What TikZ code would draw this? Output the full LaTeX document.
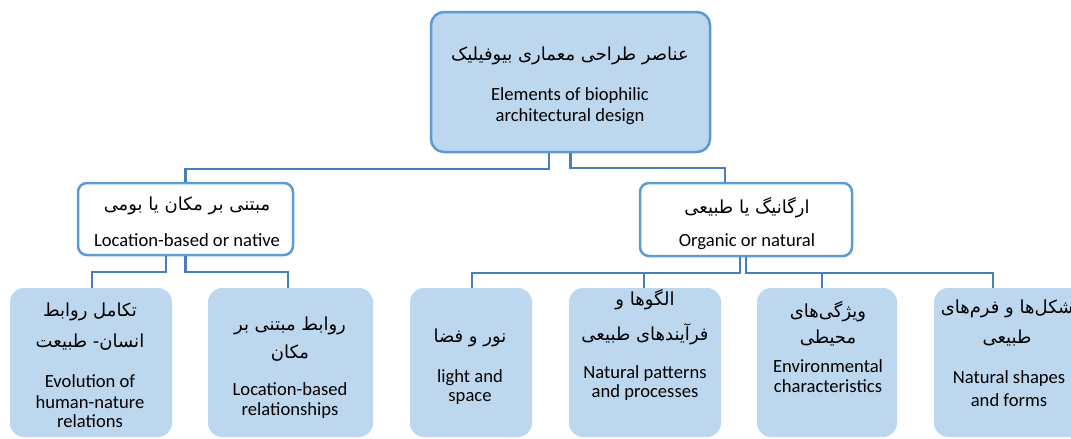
\documentclass[tikz,border=0pt]{standalone}
\usepackage{fontspec}
\setmainfont{Carlito}
\newfontfamily\fa[Script=Arabic]{DejaVu Sans}
\TeXXeTstate=1
\definecolor{boxfill}{HTML}{BDD7EE}
\definecolor{boxline}{HTML}{5B9BD5}
\definecolor{connline}{HTML}{4A7EBB}
\tikzset{
  rootbox/.style={draw=boxline, line width=2.5pt, fill=boxfill, rounded corners=13pt, inner sep=0pt},
  midbox/.style={draw=boxline, line width=2.5pt, fill=white, rounded corners=9pt, inner sep=0pt},
  leafbox/.style={fill=boxfill, rounded corners=14pt, inner sep=0pt},
  conn/.style={draw=connline, line width=2.2pt},
  fatxt/.style={anchor=base, inner sep=0pt, font=\fa\fontsize{18}{22}\selectfont},
  entxt/.style={anchor=base, inner sep=0pt, font=\fontsize{18.6}{22}\selectfont},
}
\begin{document}
\begin{tikzpicture}[x=1pt,y=-1pt]
\useasboundingbox (0,0) rectangle (1071,439);
\clip (0,0) rectangle (1071,439);
% boxes
\node[rootbox, minimum width=279pt, minimum height=140pt] (root) at (570.5,82) {};
\node[midbox, minimum width=215pt, minimum height=72pt] (lm) at (185.5,219) {};
\node[midbox, minimum width=212pt, minimum height=73pt] (rm) at (746,219.5) {};
\node[leafbox, minimum width=162pt, minimum height=149pt] (c1) at (91,362.5) {};
\node[leafbox, minimum width=165pt, minimum height=149pt] (c2) at (290.5,362.5) {};
\node[leafbox, minimum width=122pt, minimum height=149pt] (c3) at (471,362.5) {};
\node[leafbox, minimum width=152pt, minimum height=149pt] (c4) at (645,362.5) {};
\node[leafbox, minimum width=140pt, minimum height=149pt] (c5) at (827,362.5) {};
\node[leafbox, minimum width=150pt, minimum height=149pt] (c6) at (1009,362.5) {};
% connectors
\draw[conn] ([xshift=-21.5pt]root.south) -- ++(0,16) -| (lm.north);
\draw[conn] (root.south) -- ++(0,15) -| ([xshift=-21pt]rm.north);
\draw[conn] ([xshift=-19.5pt]lm.south) -- ++(0,16) -| ([xshift=1pt]c1.north);
\draw[conn] (lm.south) -- ++(0,16) -| ([xshift=-2.5pt]c2.north);
\draw[conn] ([xshift=-6pt]rm.south) -- ++(0,16) -| ([xshift=1pt]c3.north);
\draw[conn] ([xshift=-6pt]rm.south) -- ++(0,16) -| ([xshift=-1pt]c4.north);
\draw[conn] (rm.south) -- ++(0,16) -| ([xshift=-5pt]c5.north);
\draw[conn] (rm.south) -- ++(0,16) -| ([xshift=-16pt]c6.north);
% texts
\node[fatxt] (rootfa) at (570,60) {\beginR عناصر طراحی معماری بیوفیلیک\endR};
\node[entxt] (rooten1) at (570,100) {Elements of biophilic};
\node[entxt] (rooten2) at (570,121) {architectural design};
\node[fatxt] (lmfa) at (187,210) {\beginR مبتنی بر مکان یا بومی\endR};
\node[entxt] (lmen) at (187,246) {Location-based or native};
\node[fatxt] (rmfa) at (747,213) {\beginR ارگانیگ یا طبیعی\endR};
\node[entxt] (rmen) at (747,246) {Organic or natural};
\node[fatxt] (c1fa1) at (90,316) {\beginR تکامل روابط\endR};
\node[fatxt] (c1fa2) at (90,347) {\beginR انسان- طبیعت\endR};
\node[entxt] (c1en1) at (90,387) {Evolution of};
\node[entxt] (c1en2) at (90,408) {human-nature};
\node[entxt] (c1en3) at (90,427) {relations};
\node[fatxt] (c2fa1) at (290,330) {\beginR روابط مبتنی بر\endR};
\node[fatxt] (c2fa2) at (290,358) {\beginR مکان\endR};
\node[entxt] (c2en1) at (290,395) {Location-based};
\node[entxt] (c2en2) at (290,415) {relationships};
\node[fatxt] (c3fa) at (470,342) {\beginR نور و فضا\endR};
\node[entxt] (c3en1) at (470,382) {light and};
\node[entxt] (c3en2) at (470,401) {space};
\node[fatxt] (c4fa1) at (645,305) {\beginR الگوها و\endR};
\node[fatxt] (c4fa2) at (645,340) {\beginR فرآیندهای طبیعی\endR};
\node[entxt] (c4en1) at (645,378) {Natural patterns};
\node[entxt] (c4en2) at (645,397) {and processes};
\node[fatxt] (c5fa1) at (828,317) {\beginR ویژگی‌های\endR};
\node[fatxt] (c5fa2) at (828,343) {\beginR محیطی\endR};
\node[entxt] (c5en1) at (828,372) {Environmental};
\node[entxt] (c5en2) at (828,392) {characteristics};
\node[fatxt] (c6fa1) at (1007,313) {\beginR شکل‌ها و فرم‌های\endR};
\node[fatxt] (c6fa2) at (1007,343) {\beginR طبیعی\endR};
\node[entxt] (c6en1) at (1009,383) {Natural shapes};
\node[entxt] (c6en2) at (1009,406) {and forms};
\end{tikzpicture}
\end{document}
